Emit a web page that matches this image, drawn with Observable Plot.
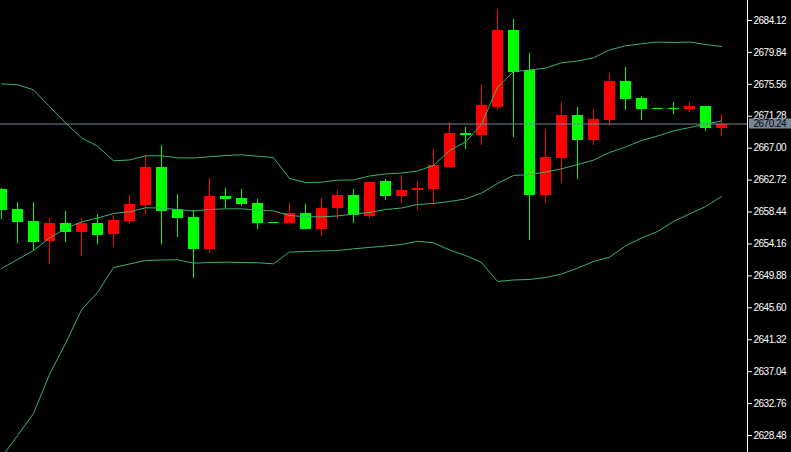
<!DOCTYPE html>
<html><head><meta charset="utf-8">
<script src="https://cdn.jsdelivr.net/npm/d3@7"></script>
<script src="https://cdn.jsdelivr.net/npm/@observablehq/plot@0.6"></script>
<style>html,body{margin:0;padding:0;background:#000;overflow:hidden}</style>
</head><body><div id="chart"></div>
<script>
const opens = [2661.46,2658.78,2657.17,2654.49,2656.90,2655.70,2656.90,2655.43,2657.17,2659.32,2664.41,2658.78,2657.71,2653.42,2660.52,2660.26,2659.59,2657.10,2656.90,2658.24,2656.10,2658.91,2660.66,2657.84,2662.53,2660.52,2661.33,2661.46,2664.41,2668.97,2668.70,2672.46,2682.78,2677.42,2660.66,2665.62,2671.38,2668.03,2670.71,2675.94,2673.66,2672.32,2672.32,2672.19,2672.59,2669.64];
const highs = [2661.60,2659.72,2659.72,2657.57,2658.51,2657.57,2658.11,2657.98,2660.66,2666.02,2667.36,2660.79,2658.65,2662.94,2661.60,2661.46,2660.12,2657.10,2659.59,2659.45,2660.26,2661.33,2661.46,2662.40,2662.80,2663.34,2662.53,2666.83,2670.44,2669.77,2675.54,2685.59,2684.25,2679.70,2669.51,2673.13,2672.46,2672.19,2677.01,2677.82,2673.93,2672.32,2673.13,2673.13,2672.59,2671.52];
const lows = [2657.44,2654.22,2653.28,2651.41,2654.36,2652.48,2654.09,2653.69,2656.77,2658.11,2654.09,2655.03,2649.53,2652.88,2658.91,2659.18,2656.10,2656.97,2656.90,2656.10,2655.16,2657.44,2656.90,2657.57,2659.99,2659.59,2658.65,2659.32,2664.41,2666.83,2667.36,2672.05,2668.43,2654.62,2659.59,2662.27,2662.80,2667.36,2669.91,2672.05,2670.71,2672.19,2671.52,2671.79,2669.24,2668.57];
const closes = [2658.65,2657.04,2654.36,2656.90,2655.70,2656.90,2655.30,2657.31,2659.45,2664.41,2658.51,2657.57,2653.42,2660.52,2660.12,2659.45,2656.90,2656.97,2658.24,2656.10,2658.91,2660.66,2657.98,2662.40,2660.52,2661.33,2661.60,2664.68,2668.97,2668.70,2672.72,2682.78,2677.15,2660.66,2665.75,2671.38,2668.03,2670.85,2675.94,2673.53,2672.19,2672.19,2672.19,2672.59,2669.64,2670.24];
const upperBand = [2675.63,2675.50,2674.83,2672.59,2670.40,2668.39,2667.27,2665.31,2665.42,2665.98,2665.99,2665.71,2665.69,2665.85,2666.02,2666.11,2665.93,2665.75,2662.94,2662.40,2662.44,2662.71,2662.74,2663.27,2663.54,2663.67,2663.94,2664.68,2666.69,2667.83,2670.18,2675.18,2677.28,2677.48,2677.75,2678.45,2678.69,2679.12,2680.17,2680.73,2681.00,2681.24,2681.17,2681.24,2680.90,2680.63];
const middleBand = [2650.87,2652.08,2653.28,2654.96,2656.23,2657.11,2657.64,2658.24,2658.47,2659.01,2658.98,2658.78,2658.58,2658.78,2658.87,2658.87,2658.71,2658.58,2657.98,2657.80,2657.80,2657.91,2658.18,2658.38,2658.78,2658.98,2659.45,2659.59,2659.85,2660.19,2660.99,2662.27,2663.34,2663.47,2663.81,2664.24,2664.81,2665.39,2666.42,2667.16,2668.03,2668.63,2669.31,2669.77,2670.20,2670.65];
const lowerBand = [2625.53,2628.48,2631.43,2636.66,2640.82,2645.31,2647.65,2651.00,2651.47,2651.94,2652.01,2652.04,2651.58,2651.68,2651.72,2651.68,2651.64,2651.50,2653.08,2653.15,2653.22,2653.28,2653.51,2653.69,2653.89,2654.09,2654.52,2654.32,2653.35,2652.61,2651.68,2649.13,2649.33,2649.40,2649.66,2650.13,2650.91,2651.81,2652.39,2653.89,2654.96,2655.83,2657.17,2658.18,2659.18,2660.52];
const yTicks = [2684.12,2679.84,2675.56,2671.28,2667.00,2662.72,2658.44,2654.16,2649.88,2645.60,2641.32,2637.04,2632.76,2628.48];
const lastPrice = 2670.24;

const candles = opens.map((o, i) => ({i, o, h: highs[i], l: lows[i], c: closes[i], up: closes[i] >= o}));
const bands = [upperBand, middleBand, lowerBand].flatMap((arr, k) => arr.map((v, i) => ({i, v, band: k})));
const col = d => d.up ? "#ff0000" : "#00ff00";

const chart = Plot.plot({
  width: 791, height: 452,
  marginLeft: 0, marginRight: 44, marginTop: 0, marginBottom: 0,
  style: {background: "#000", color: "#fff", fontFamily: "'Liberation Sans', Arial, sans-serif", fontSize: "10px"},
  x: {type: "linear", domain: [0, 45], range: [1, 721], axis: null},
  y: {domain: [2684.12, 2628.48], range: [20, 435], axis: null},
  color: {type: "identity"},
  marks: [
    Plot.ruleX(candles, {x: "i", y1: "l", y2: "h", stroke: col, shapeRendering: "crispEdges"}),
    Plot.rect(candles, {x1: d => d.i - 0.34375, x2: d => d.i + 0.34375, y1: "o", y2: "c", fill: col, shapeRendering: "crispEdges"}),
    Plot.line(bands, {x: "i", y: "v", z: "band", stroke: "#3cb371", strokeWidth: 1}),
    Plot.ruleY([lastPrice], {stroke: "#778899"}),
    Plot.frame({anchor: "right", stroke: "#fff"}),
    Plot.axisY(yTicks, {anchor: "right", tickSize: 4, tickPadding: 2, tickFormat: d => d.toFixed(2), label: null, stroke: "#fff"}),
    Plot.text([lastPrice], {y: d => d, text: d => d.toFixed(2), frameAnchor: "right", dx: 6, textAnchor: "start", fill: "#000"})
  ]
});
document.getElementById("chart").appendChild(chart);
const svg = d3.select(chart);
svg.selectAll("text").attr("letter-spacing", "-0.5px");
const yPix = chart.scale("y").apply(lastPrice);
const labelGroup = svg.selectAll("g[aria-label='text']").nodes().pop();
const r = document.createElementNS("http://www.w3.org/2000/svg", "rect");
r.setAttribute("x", 749); r.setAttribute("y", Math.round(yPix) - 5.5);
r.setAttribute("width", 42); r.setAttribute("height", 10);
r.setAttribute("fill", "#778899");
chart.insertBefore(r, labelGroup);
</script>
</body></html>
